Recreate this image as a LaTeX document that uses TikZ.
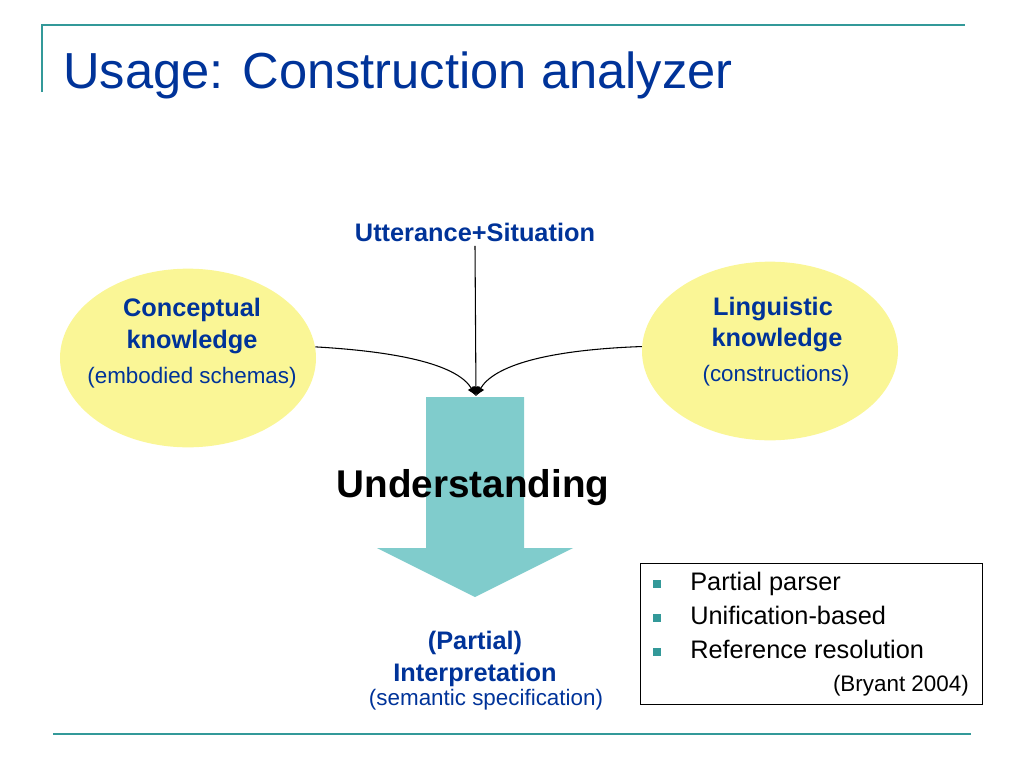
\documentclass[tikz,border=0pt]{standalone}
\usepackage{fontspec}
\setmainfont{Liberation Sans}
\usetikzlibrary{arrows.meta,shapes.geometric}
\definecolor{titleblue}{RGB}{0,51,153}
\definecolor{rulerteal}{RGB}{51,153,153}
\definecolor{paleyellow}{RGB}{250,246,150}
\definecolor{arrowteal}{RGB}{128,204,204}

\begin{document}
\begin{tikzpicture}[x=0.75pt,y=-0.75pt,
  knowl/.style={ellipse,fill=paleyellow,minimum width=192pt,minimum height=134pt,inner sep=0pt},
  head/.style={text=titleblue,font=\fontsize{19}{23}\selectfont\bfseries,anchor=base},
  sub/.style={text=titleblue,font=\fontsize{16.8}{20}\selectfont,anchor=base},
  item/.style={font=\fontsize{19}{23}\selectfont,anchor=base west,inner sep=0pt},
  bullet/.style={fill=rulerteal,minimum size=6pt,inner sep=0pt}]
\useasboundingbox (0,0) rectangle (1024,768);
% slide frame
\draw [rulerteal,line width=1.5pt] (42,92) -- (42,25) -- (965,25);
\draw [rulerteal,line width=1.5pt] (53,734) -- (971,734);
\node (title) at (63,88) [anchor=base west,inner sep=0pt,text=titleblue,font=\fontsize{38}{44}\selectfont] {Usage: Construction analyzer};
% knowledge sources
\node [knowl] (concept) at (188,358) {};
\node [knowl] (ling)    at (770,351) {};
\node [head] (concept1) at (192,316) {Conceptual};
\node [head] (concept2) at (192,348) {knowledge};
\node [sub]  (concept3) at (192,383) {(embodied schemas)};
\node [head] (ling1) at (773,315) {Linguistic};
\node [head] (ling2) at (777,346) {knowledge};
\node [sub]  (ling3) at (776,381) {(constructions)};
\node [head] (utt) at (475,241) {Utterance+Situation};
% big arrow
\fill [arrowteal] (426,397) -- (524,397) -- (524,548) -- (573,548) -- (475,597) -- (377,548) -- (426,548) -- cycle;
\coordinate (meet) at (476,396);
\node (under) at (473,497) [anchor=base,font=\fontsize{29}{34}\selectfont\bfseries] {Understanding};
\draw [thick,-{Latex[length=7pt,width=6pt]}] (utt.south) to (meet);
\draw [thick,-{Latex[length=7pt,width=6pt]}] (concept.5) .. controls (405,352) and (458,366) .. (meet);
\draw [thick,-{Latex[length=7pt,width=6pt]}] (ling.178) .. controls (545,350) and (494,366) .. (meet);
% result
\node [head] (interp1) at (475,649) {(Partial)};
\node [head] (interp2) at (475,681) {Interpretation};
\node [sub]  (interp3) at (486,705) {(semantic specification)};
% notes box
\node [draw,line width=0.75pt,minimum width=256.5pt,minimum height=105.75pt,inner sep=0pt] (refs) at (811,633.5) {};
\node [bullet] (b1) at (657,584) {};
\node [bullet] (b2) at (657,618) {};
\node [bullet] (b3) at (657,652) {};
\node [item] (i1) at (690,590) {Partial parser};
\node [item] (i2) at (690,624) {Unification-based};
\node [item] (i3) at (690,658) {Reference resolution};
\node (cite) at (969,691) [anchor=base east,inner sep=0pt,font=\fontsize{16.8}{20}\selectfont] {(Bryant 2004)};
\end{tikzpicture}
\end{document}
